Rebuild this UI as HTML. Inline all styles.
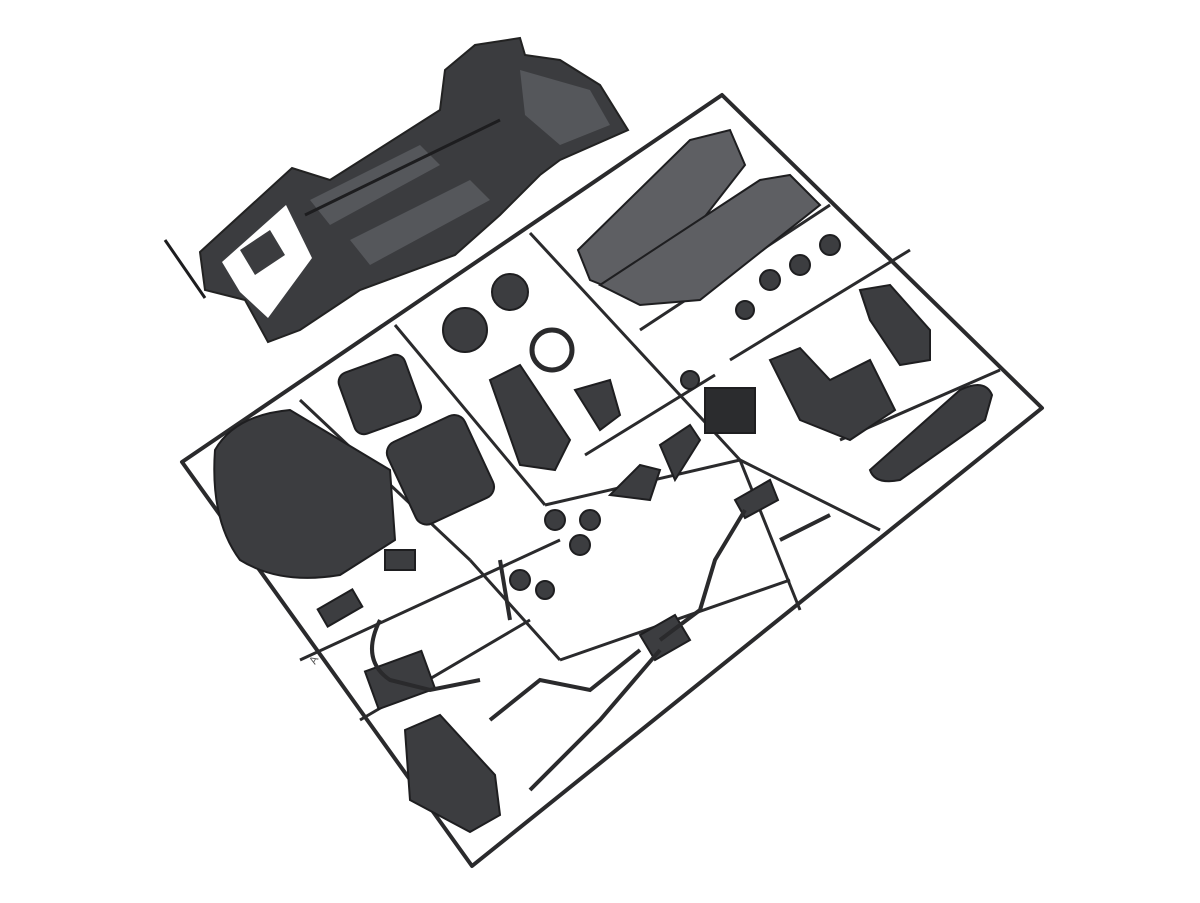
<!DOCTYPE html>
<html><head><meta charset="utf-8"><style>
html,body{margin:0;padding:0;background:#fff;}
svg{display:block}
</style></head><body>
<svg width="1200" height="903" viewBox="0 0 1200 903" xmlns="http://www.w3.org/2000/svg">
<rect width="1200" height="903" fill="#fff"/>
<!-- chassis -->
<g fill="#3b3c3f" stroke="#222" stroke-width="2">
<polygon points="200,252 292,168 330,180 440,110 445,70 475,45 520,38 525,55 560,60 600,85 628,130 560,160 540,175 500,215 455,255 360,290 300,330 268,342 245,300 205,290"/>
</g>
<polygon points="222,262 286,205 312,258 268,318 240,292" fill="#fff"/>
<g fill="#3b3c3f"><polygon points="240,250 270,230 285,255 255,275"/></g>
<g fill="#55575b">
<polygon points="310,200 420,145 440,165 330,225"/>
<polygon points="350,240 470,180 490,200 370,265"/>
<polygon points="520,70 590,90 610,125 560,145 525,115"/>
</g>
<g stroke="#1d1d1f" stroke-width="3" fill="none">
<line x1="165" y1="240" x2="205" y2="298"/>
<line x1="305" y1="215" x2="500" y2="120"/>
</g>
<!-- sprue frame -->
<g stroke="#2a2a2c" stroke-width="4" fill="none" stroke-linejoin="round">
<polygon points="722,95 1042,408 472,866 182,462"/>
</g>
<g stroke="#2a2a2c" stroke-width="3" fill="none" stroke-linejoin="round">
<line x1="395" y1="325" x2="545" y2="505"/>
<line x1="530" y1="233" x2="740" y2="460"/>
<line x1="300" y1="400" x2="470" y2="560"/>
<line x1="545" y1="505" x2="740" y2="460"/>
<line x1="640" y1="330" x2="830" y2="205"/>
<line x1="730" y1="360" x2="910" y2="250"/>
<line x1="740" y1="460" x2="880" y2="530"/>
<line x1="840" y1="440" x2="1000" y2="370"/>
<line x1="585" y1="455" x2="715" y2="375"/>
<line x1="300" y1="660" x2="560" y2="540"/>
<line x1="470" y1="560" x2="560" y2="660"/>
<line x1="560" y1="660" x2="790" y2="580"/>
<line x1="740" y1="460" x2="800" y2="610"/>
<line x1="360" y1="720" x2="530" y2="620"/>
</g>
<!-- parts -->
<g fill="#3c3d40" stroke="#1e1e20" stroke-width="2">
<path d="M215,450 Q235,415 290,410 L390,470 L395,540 L340,575 Q280,585 240,560 Q210,520 215,450 Z"/>
<rect x="345" y="362" width="70" height="65" rx="10" transform="rotate(-20 380 395)"/>
<rect x="398" y="425" width="85" height="90" rx="12" transform="rotate(-25 440 470)"/>
<polygon points="578,250 690,140 730,130 745,165 640,300 590,280" fill="#5e5f63"/>
<polygon points="600,285 760,180 790,175 820,205 700,300 640,305" fill="#5e5f63"/>
<path d="M870,470 L960,390 Q985,378 992,395 L985,420 L900,480 Q875,485 870,470 Z"/>
<polygon points="770,360 800,348 830,380 870,360 895,410 850,440 800,420"/>
<polygon points="860,290 890,285 930,330 930,360 900,365 870,320"/>
<rect x="705" y="388" width="50" height="45" fill="#2b2c2e"/>
<polygon points="490,380 520,365 570,440 555,470 520,465"/>
<circle cx="465" cy="330" r="22"/>
<circle cx="510" cy="292" r="18"/>
<circle cx="552" cy="350" r="20" fill="none" stroke="#2a2a2c" stroke-width="5"/>
<polygon points="610,495 640,465 660,470 650,500"/>
<polygon points="660,445 690,425 700,440 675,480"/>
<polygon points="575,390 610,380 620,415 600,430"/>
<polygon points="405,730 440,715 495,775 500,815 470,832 410,800"/>
<polygon points="735,500 770,480 778,500 745,518"/>
<polygon points="640,635 675,615 690,640 655,660"/>
<rect x="320" y="598" width="40" height="20" transform="rotate(-30 340 608)"/>
<rect x="385" y="550" width="30" height="20"/>
<rect x="370" y="660" width="60" height="40" transform="rotate(-20 400 680)"/>
<circle cx="770" cy="280" r="10"/><circle cx="800" cy="265" r="10"/><circle cx="830" cy="245" r="10"/>
<circle cx="555" cy="520" r="10"/><circle cx="580" cy="545" r="10"/><circle cx="590" cy="520" r="10"/>
<circle cx="520" cy="580" r="10"/><circle cx="545" cy="590" r="9"/>
<circle cx="690" cy="380" r="9"/><circle cx="745" cy="310" r="9"/>
</g>
<g stroke="#2a2a2c" stroke-width="4" fill="none">
<path d="M745,510 L715,560 L700,610 L660,640"/>
<path d="M640,650 L590,690 L540,680 L490,720"/>
<path d="M660,650 L600,720 L560,760 L530,790"/>
<path d="M380,620 Q360,660 390,680 L430,690 L480,680"/>
<path d="M500,560 L510,620"/>
<path d="M780,540 L830,515"/>
</g>
<text x="315" y="665" font-family="Liberation Sans, sans-serif" font-size="11" fill="#555" transform="rotate(-60 315 665)">A</text>
</svg>
</body></html>
